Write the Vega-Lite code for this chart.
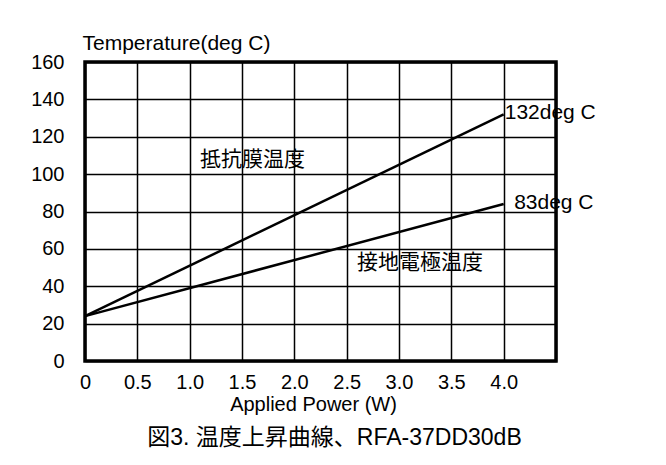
{
  "$schema": "https://vega.github.io/schema/vega-lite/v6.json",
  "width": 471,
  "height": 299,
  "autosize": "none",
  "padding": {"left": 85, "top": 62, "right": 110, "bottom": 104},
  "background": "white",
  "config": {
    "view": {"stroke": "black", "strokeWidth": 3.5},
    "font": "Liberation Sans"
  },
  "title": {
    "text": "図3. 温度上昇曲線、RFA-37DD30dB",
    "orient": "bottom",
    "font": "Liberation Sans, Noto Sans CJK JP",
    "fontSize": 23,
    "fontWeight": "normal",
    "color": "black",
    "offset": 13,
    "dx": 14
  },
  "datasets": {
    "curves": [
      {"series": "抵抗膜温度", "power": 0, "temp": 24},
      {"series": "抵抗膜温度", "power": 4.0, "temp": 132},
      {"series": "接地電極温度", "power": 0, "temp": 24},
      {"series": "接地電極温度", "power": 4.0, "temp": 84}
    ],
    "jpLabels": [
      {"label": "抵抗膜温度", "power": 1.6, "temp": 107.5},
      {"label": "接地電極温度", "power": 3.2, "temp": 52.4}
    ],
    "endLabels": [
      {"label": "132deg C", "power": 4.01, "temp": 132.7},
      {"label": "83deg C", "power": 4.1, "temp": 84.5}
    ]
  },
  "encoding": {
    "x": {
      "field": "power",
      "type": "quantitative",
      "scale": {"domain": [0, 4.5], "nice": false},
      "axis": {
        "values": [0, 0.5, 1, 1.5, 2, 2.5, 3, 3.5, 4, 4.5],
        "labelExpr": "datum.value > 4.2 ? '' : (datum.value == 0 ? '0' : format(datum.value, '.1f'))",
        "grid": true,
        "gridColor": "black",
        "gridWidth": 1.5,
        "gridOpacity": 1,
        "domain": false,
        "ticks": false,
        "labelFontSize": 20,
        "labelColor": "black",
        "labelPadding": 11,
        "labelFlush": false,
        "labelOverlap": false,
        "title": "Applied Power (W)",
        "titleFontSize": 20,
        "titleFontWeight": "normal",
        "titleColor": "black",
        "titleBaseline": "middle",
        "titleX": 228,
        "titleY": 43
      }
    },
    "y": {
      "field": "temp",
      "type": "quantitative",
      "scale": {"domain": [0, 160], "nice": false},
      "axis": {
        "values": [0, 20, 40, 60, 80, 100, 120, 140, 160],
        "grid": true,
        "gridColor": "black",
        "gridWidth": 1.5,
        "gridOpacity": 1,
        "domain": false,
        "ticks": false,
        "labelFontSize": 20,
        "labelColor": "black",
        "labelPadding": 21,
        "labelOverlap": false,
        "labelFlush": false,
        "title": "Temperature(deg C)",
        "titleFontSize": 21,
        "titleFontWeight": "normal",
        "titleColor": "black",
        "titleAngle": 0,
        "titleAlign": "left",
        "titleBaseline": "middle",
        "titleX": -3,
        "titleY": -19
      }
    }
  },
  "layer": [
    {
      "data": {"name": "curves"},
      "mark": {"type": "line", "color": "black", "strokeWidth": 2.5},
      "encoding": {
        "detail": {"field": "series", "type": "nominal"}
      }
    },
    {
      "data": {"name": "jpLabels"},
      "mark": {"type": "text", "font": "Noto Sans CJK JP", "fontSize": 21, "color": "black", "align": "center", "baseline": "middle"},
      "encoding": {
        "text": {"field": "label"}
      }
    },
    {
      "data": {"name": "endLabels"},
      "mark": {"type": "text", "font": "Liberation Sans", "fontSize": 21, "color": "black", "align": "left", "baseline": "middle"},
      "encoding": {
        "text": {"field": "label"}
      }
    },
    {
      "data": {"values": [{"frame": "outer"}]},
      "mark": {"type": "rect", "fill": "transparent", "stroke": "black", "strokeWidth": 2, "strokeOpacity": 1, "clip": false},
      "encoding": {
        "x": {"datum": -0.717},
        "x2": {"datum": 5.483},
        "y": {"datum": 187.8},
        "y2": {"datum": -70}
      }
    }
  ]
}
